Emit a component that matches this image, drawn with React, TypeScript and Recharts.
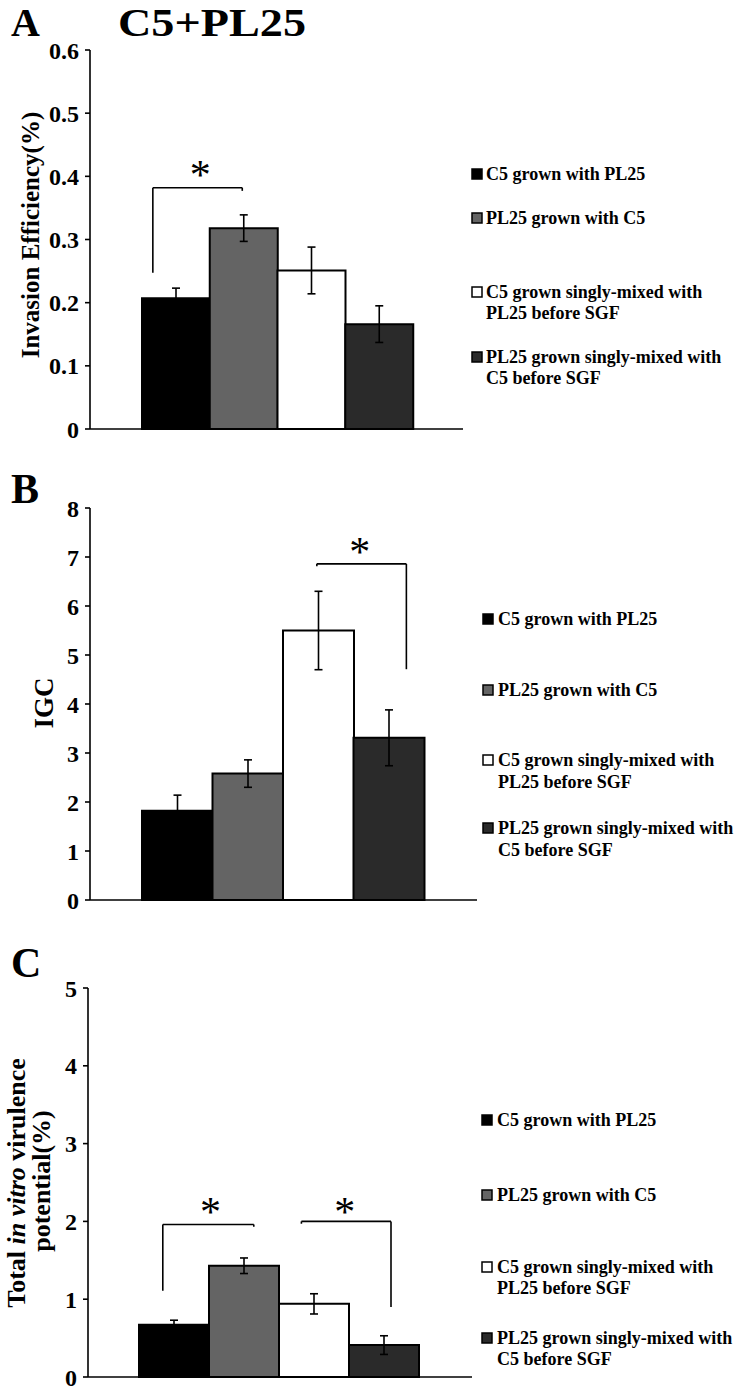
import React from 'react';
import {
  BarChart,
  Bar,
  Cell,
  XAxis,
  YAxis,
  ErrorBar,
  ReferenceLine,
  ReferenceDot,
} from 'recharts';

// groups shown in every panel (legend text, split in lines as on the figure)
const groups = [
  'C5 grown with PL25',
  'PL25 grown with C5',
  'C5 grown singly-mixed with PL25 before SGF',
  'PL25 grown singly-mixed with C5 before SGF',
];
const legendLines = [
  ['C5 grown with PL25'],
  ['PL25 grown with C5'],
  ['C5 grown singly-mixed with', 'PL25 before SGF'],
  ['PL25 grown singly-mixed with', 'C5 before SGF'],
];

// A: invasion efficiency (%)
const invasion = [0.207, 0.318, 0.251, 0.166];
const invasionErr = [0.016, 0.021, 0.037, 0.029];
const invasionTicks = [0, 0.1, 0.2, 0.3, 0.4, 0.5, 0.6];

// B: IGC
const igc = [1.82, 2.58, 5.5, 3.31];
const igcErr = [0.32, 0.28, 0.8, 0.57];
const igcTicks = [0, 1, 2, 3, 4, 5, 6, 7, 8];

// C: total in vitro virulence potential (%)
const virulence = [0.67, 1.43, 0.94, 0.41];
const virulenceErr = [0.06, 0.1, 0.13, 0.12];
const virulenceTicks = [0, 1, 2, 3, 4, 5];

// significance brackets, x in bar units (0 = left edge of first bar)
const bracketsA = [{ from: 0.16, to: 1.48, top: 0.382, leftEnd: 0.2475, rightEnd: 0.377, star: 0.86, starY: 0.41 }];
const bracketsB = [{ from: 2.48, to: 3.75, top: 6.86, leftEnd: 6.81, rightEnd: 4.71, star: 3.09, starY: 7.2 }];
const bracketsC = [
  { from: 0.34, to: 1.64, top: 1.96, leftEnd: 1.11, rightEnd: 1.93, star: 1.02, starY: 2.18 },
  { from: 2.32, to: 3.6, top: 2.0, leftEnd: 1.97, rightEnd: 0.9, star: 2.94, starY: 2.18 },
];

const fills = ['#000000', '#646464', '#ffffff', '#2a2a2a'];
const FONT = '"Liberation Serif", "Times New Roman", serif';

const toRows = (vals: number[], errs: number[]) =>
  groups.map((g, i) => ({ name: g, value: vals[i], err: errs[i] }));

const Star = (props: any) => (
  <text
    x={props.cx}
    y={props.cy + 19}
    textAnchor="middle"
    fontSize={42}
    fontFamily={FONT}
    fill="#000"
  >
    *
  </text>
);

function Panel({ top, height, marginTop, axisH, left, right, pad, domain, ticks, rows, brackets }: any) {
  const line = { stroke: '#000', strokeWidth: 1.6 };
  return (
    <div style={{ position: 'absolute', left: 0, top }}>
      <BarChart
        width={741}
        height={height}
        data={rows}
        margin={{ top: marginTop, right: 741 - right, left: left - 60, bottom: 0 }}
        barCategoryGap={0}
        barGap={0}
      >
        <XAxis dataKey="name" padding={pad} tick={false} tickLine={false} height={axisH} axisLine={line} />
        {/* hidden numeric axis used only to place the brackets: 0..4 spans the four bars */}
        <XAxis xAxisId="ann" dataKey="value" type="number" domain={[0, 4]} allowDataOverflow padding={pad} hide />
        <YAxis
          domain={[domain[0], domain[1]]}
          ticks={ticks}
          interval={0}
          width={60}
          tickSize={5}
          tickMargin={6}
          axisLine={line}
          tickLine={line}
          tick={{ fill: '#000', fontSize: 24, fontWeight: 700, fontFamily: FONT }}
        />
        <Bar dataKey="value" isAnimationActive={false} stroke="#000" strokeWidth={2}>
          {rows.map((r: any, i: number) => (
            <Cell key={r.name} fill={fills[i]} />
          ))}
          <ErrorBar dataKey="err" width={4} stroke="#000" strokeWidth={1.6} isAnimationActive={false} />
        </Bar>
        {brackets.map((b: any, i: number) => [
          <ReferenceLine key={`l${i}`} xAxisId="ann" ifOverflow="visible" segment={[{ x: b.from, y: b.leftEnd }, { x: b.from, y: b.top }]} {...line} />,
          <ReferenceLine key={`t${i}`} xAxisId="ann" ifOverflow="visible" segment={[{ x: b.from, y: b.top }, { x: b.to, y: b.top }]} {...line} />,
          <ReferenceLine key={`r${i}`} xAxisId="ann" ifOverflow="visible" segment={[{ x: b.to, y: b.top }, { x: b.to, y: b.rightEnd }]} {...line} />,
          <ReferenceDot key={`s${i}`} xAxisId="ann" ifOverflow="visible" x={b.star} y={b.starY} r={0} shape={Star} />,
        ])}
      </BarChart>
    </div>
  );
}

function Legend({ sx, tx, ys }: { sx: number; tx: number; ys: number[][] }) {
  return (
    <g>
      {legendLines.map((lines, i) => (
        <g key={i}>
          <rect x={sx} y={ys[i][0] - 5} width={10} height={10} fill={fills[i]} stroke="#000" strokeWidth={1.5} />
          {lines.map((t, j) => (
            <text key={j} x={tx} y={ys[i][j] + 6} fontSize={18} fontWeight={700} fontFamily={FONT} fill="#000">
              {t}
            </text>
          ))}
        </g>
      ))}
    </g>
  );
}

export default function App() {
  const big = { fontSize: 40, fontWeight: 700, fontFamily: FONT, fill: '#000' } as const;
  const lab = { fontSize: 25, fontWeight: 700, fontFamily: FONT, fill: '#000', textAnchor: 'middle' } as const;
  return (
    <div style={{ position: 'absolute', left: 0, top: 0, width: 741, height: 1386, overflow: 'hidden', background: '#fff' }}>
      <Panel top={0} height={450} marginTop={50} axisH={21} left={90} right={463} pad={{ left: 52, right: 50 }}
        domain={[0, 0.6]} ticks={invasionTicks} rows={toRows(invasion, invasionErr)} brackets={bracketsA} />
      <Panel top={460} height={460} marginTop={48} axisH={20} left={90} right={477} pad={{ left: 52, right: 53 }}
        domain={[0, 8]} ticks={igcTicks} rows={toRows(igc, igcErr)} brackets={bracketsB} />
      <Panel top={940} height={456} marginTop={48} axisH={19} left={88} right={472} pad={{ left: 51, right: 53 }}
        domain={[0, 5]} ticks={virulenceTicks} rows={toRows(virulence, virulenceErr)} brackets={bracketsC} />

      <svg width={741} height={1386} style={{ position: 'absolute', left: 0, top: 0, pointerEvents: 'none' }}>
        <text x={11} y={36} {...big}>A</text>
        <text x={118} y={36} {...big} textLength={188} lengthAdjust="spacingAndGlyphs">C5+PL25</text>
        <text x={11} y={503} {...big} fontSize={42}>B</text>
        <text x={11} y={977} {...big} fontSize={42}>C</text>

        <text x={39} y={235} {...lab} transform="rotate(-90 39 235)">Invasion Efficiency(%)</text>
        <text x={53} y={703} {...lab} fontSize={27} transform="rotate(-90 53 703)">IGC</text>
        <text x={25} y={1183} {...lab} fontSize={26} transform="rotate(-90 25 1183)">
          Total <tspan fontStyle="italic">in vitro</tspan> virulence
        </text>
        <text x={50} y={1181} {...lab} fontSize={26} transform="rotate(-90 50 1181)">potential(%)</text>

        <Legend sx={472} tx={486} ys={[[174], [218], [292, 313], [357, 378]]} />
        <Legend sx={483} tx={498} ys={[[619], [690], [760, 782], [828, 850]]} />
        <Legend sx={482} tx={497} ys={[[1120], [1195], [1267, 1288], [1338, 1359]]} />
      </svg>
    </div>
  );
}
